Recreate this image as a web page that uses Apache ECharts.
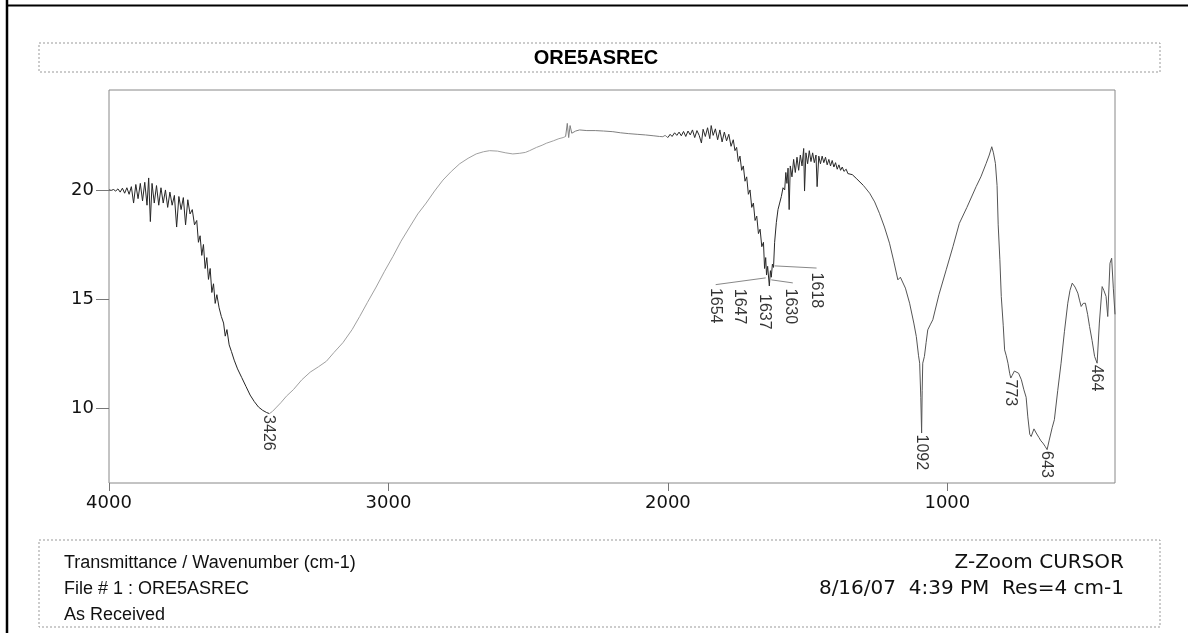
<!DOCTYPE html>
<html><head><meta charset="utf-8">
<script src="https://cdn.jsdelivr.net/npm/echarts@6/dist/echarts.min.js"></script>
<style>html,body{margin:0;padding:0;background:#fff}#c{width:1188px;height:633px}</style>
</head><body><div id="c"></div>
<script>
// IR spectrum: [wavenumber (cm-1), transmittance]
const spectrum = [
[4000,20.00],[3992,19.98],[3984,20.02],[3976,19.95],[3968,20.05],[3960,19.90],[3952,20.08],[3944,19.85],
[3936,20.10],[3928,19.80],[3920,20.15],[3912,19.40],[3904,20.25],[3896,19.60],[3888,20.30],[3880,19.50],
[3872,20.35],[3864,19.30],[3858,20.55],[3852,18.55],[3846,20.30],[3838,19.40],[3830,20.20],[3822,19.30],
[3814,20.10],[3806,19.40],[3798,20.00],[3790,19.20],[3782,19.90],[3774,19.30],[3766,19.75],[3758,18.30],
[3750,19.70],[3742,19.10],[3734,19.65],[3726,18.40],[3718,19.55],[3710,18.90],[3702,19.10],[3694,18.40],
[3686,18.60],[3680,17.60],[3674,17.90],[3668,17.00],[3662,17.50],[3656,16.40],[3650,16.90],[3644,15.90],
[3638,16.40],[3632,15.30],[3626,15.70],[3620,14.80],[3614,15.20],[3606,14.60],[3598,14.20],[3590,13.90],
[3584,13.30],[3578,13.60],[3570,12.90],[3562,12.60],[3552,12.20],[3540,11.80],[3525,11.40],[3510,11.00],
[3495,10.60],[3480,10.30],[3465,10.05],[3450,9.90],[3436,9.80],[3426,9.75],[3415,9.85],[3400,10.05],
[3385,10.25],[3365,10.55],[3340,10.85],[3310,11.30],[3280,11.65],[3250,11.90],[3222,12.15],[3195,12.55],
[3163,13.00],[3130,13.60],[3103,14.20],[3075,14.85],[3044,15.55],[3015,16.25],[2984,16.95],[2955,17.65],
[2924,18.30],[2895,18.90],[2865,19.40],[2835,19.95],[2805,20.45],[2775,20.85],[2745,21.20],[2715,21.45],
[2686,21.65],[2660,21.75],[2638,21.80],[2610,21.78],[2580,21.70],[2555,21.65],[2530,21.68],[2510,21.72],
[2495,21.80],[2470,21.95],[2450,22.05],[2435,22.14],[2410,22.25],[2390,22.35],[2375,22.40],[2366,22.45],
[2360,23.05],[2355,22.40],[2350,22.95],[2344,22.60],[2330,22.70],[2316,22.75],[2290,22.72],[2260,22.72],
[2230,22.70],[2197,22.67],[2170,22.62],[2140,22.58],[2110,22.55],[2080,22.52],[2050,22.48],[2030,22.45],
[2018,22.44],[2010,22.50],[2000,22.40],[1992,22.55],[1985,22.45],[1976,22.62],[1968,22.50],[1960,22.65],
[1952,22.48],[1944,22.68],[1936,22.45],[1928,22.70],[1920,22.52],[1912,22.75],[1904,22.40],[1896,22.72],
[1888,22.50],[1880,22.15],[1874,22.78],[1866,22.45],[1858,22.85],[1850,22.35],[1845,22.95],[1838,22.50],
[1830,22.80],[1822,22.30],[1814,22.75],[1806,22.20],[1798,22.65],[1790,22.25],[1782,22.55],[1774,22.00],
[1766,22.30],[1760,21.80],[1754,21.95],[1748,21.30],[1742,21.55],[1736,20.90],[1730,21.10],[1724,20.40],
[1718,20.60],[1712,19.80],[1706,20.00],[1700,19.20],[1694,19.40],[1688,18.60],[1682,18.80],[1676,18.00],
[1670,18.20],[1664,17.40],[1658,17.60],[1654,16.40],[1650,16.90],[1647,16.10],[1643,16.50],[1637,15.60],
[1633,16.30],[1630,16.00],[1626,16.60],[1622,16.45],[1618,17.60],[1612,18.50],[1606,19.10],[1600,19.40],
[1594,19.70],[1588,20.10],[1582,20.00],[1578,20.80],[1574,20.30],[1570,21.00],[1566,19.10],[1562,21.10],
[1556,20.60],[1550,21.40],[1544,20.80],[1538,21.50],[1532,20.90],[1526,21.60],[1520,21.10],[1514,21.90],
[1511,19.95],[1506,21.70],[1500,21.20],[1494,21.80],[1488,21.30],[1482,21.70],[1476,21.25],[1470,21.60],
[1466,20.15],[1460,21.55],[1454,21.20],[1448,21.55],[1442,21.25],[1436,21.50],[1430,21.15],[1424,21.40],
[1418,21.10],[1412,21.35],[1406,21.05],[1400,21.25],[1394,20.95],[1388,21.15],[1382,20.90],[1376,21.05],
[1370,20.85],[1362,20.95],[1356,20.75],[1350,20.84],[1340,20.70],[1326,20.53],[1300,20.20],[1278,19.85],
[1260,19.45],[1243,18.93],[1225,18.30],[1207,17.56],[1192,16.75],[1177,15.88],[1168,16.00],[1161,16.03],
[1150,15.50],[1135,14.81],[1120,13.90],[1111,13.28],[1103,12.40],[1099,12.06],[1095,10.50],[1092,8.86],
[1090,10.80],[1088,12.06],[1082,12.37],[1076,13.00],[1070,13.59],[1060,13.85],[1052,14.05],[1030,15.20],
[1004,16.34],[980,17.40],[957,18.47],[930,19.20],[897,20.15],[880,20.60],[861,21.22],[850,21.60],
[841,21.98],[835,21.70],[828,21.22],[822,20.20],[818,18.40],[812,16.80],[807,15.12],[800,13.80],
[795,12.67],[789,12.40],[783,12.06],[777,11.60],[773,11.38],[768,11.50],[760,11.70],[754,11.76],
[745,11.60],[735,11.30],[726,10.84],[718,10.50],[712,9.60],[705,8.80],[700,8.70],[690,9.05],
[682,8.86],[672,8.65],[665,8.50],[658,8.40],[650,8.25],[643,8.10],[636,8.50],[625,9.10],
[617,9.47],[605,10.80],[593,12.06],[581,13.50],[569,14.81],[561,15.40],[553,15.73],[543,15.55],
[533,15.27],[527,14.95],[521,14.66],[514,14.80],[506,14.81],[498,14.30],[491,13.74],[482,13.10],
[473,12.37],[464,12.06],[456,13.90],[446,15.57],[440,15.40],[432,15.12],[426,14.20],[418,16.64],
[412,16.87],[406,15.50],[400,14.30]
];
const xTicks = [4000, 3000, 2000, 1000];
const yTicks = [10, 15, 20];
// isolated peak labels: [wavenumber, transmittance at peak]
const peaks = [[3426, 9.75], [1092, 8.86], [773, 11.38], [643, 8.10], [464, 12.06]];
// clustered peak labels (text, anchor wavenumber, anchor transmittance)
const clusterNames = ['1654', '1647', '1637', '1630', '1618'];
const clusterWn = [1829, 1743, 1654, 1561, 1468];
const clusterT = [15.58, 15.54, 15.30, 15.55, 16.28];
// leader lines from the band to the labels
const leaders = [
  [[1650, 15.97], [1829, 15.66]],
  [[1630, 15.88], [1553, 15.74]],
  [[1618, 16.52], [1468, 16.42]]
];
// print density of the trace, by wavenumber range [high, low]
const traceSegments = [[4000, 3426, '#262626'], [3426, 2366, '#a0a0a0'], [2366, 2000, '#808080'], [2000, 1300, '#2a2a2a'], [1300, 400, '#555555']];

const chart = echarts.init(document.getElementById('c'), null, {renderer: 'canvas'});
const tickFont = {fontFamily: 'DejaVu Sans', fontSize: 18, color: '#111'};
const peakLabel = {
  show: true, rotate: -90, align: 'left', verticalAlign: 'middle',
  position: [0, 2], fontFamily: 'Liberation Sans', fontSize: 16, color: '#000'
};
const series = traceSegments.map(s => ({
  type: 'line', data: spectrum.filter(p => p[0] <= s[0] && p[0] >= s[1]),
  showSymbol: false, symbol: 'none', silent: true,
  lineStyle: {width: 1, color: s[2]}, z: 3
}));
series.push({
  type: 'scatter', data: peaks, symbolSize: 1, silent: true,
  itemStyle: {color: 'rgba(0,0,0,0)'},
  label: Object.assign({}, peakLabel, {formatter: p => String(p.value[0])}), z: 5
}, {
  type: 'scatter', silent: true, symbolSize: 1, itemStyle: {color: 'rgba(0,0,0,0)'},
  data: clusterNames.map((n, i) => ({name: n, value: [clusterWn[i], clusterT[i]]})),
  label: Object.assign({}, peakLabel, {formatter: '{b}'}), z: 5
});
leaders.forEach(l => series.push({
  type: 'line', data: l, symbol: 'none', silent: true,
  lineStyle: {width: 1, color: '#888'}, z: 2
}));

chart.setOption({
  animation: false,
  backgroundColor: '#fff',
  grid: {left: 109, right: 73, top: 90, bottom: 150, show: true, borderColor: '#888', borderWidth: 1, backgroundColor: 'transparent'},
  xAxis: {
    type: 'value', inverse: true, min: 400, max: 4000,
    axisLine: {show: false}, splitLine: {show: false},
    axisTick: {show: true, length: 8, lineStyle: {color: '#777'}, customValues: xTicks},
    axisLabel: Object.assign({margin: 11, customValues: xTicks, formatter: v => String(v)}, tickFont)
  },
  yAxis: {
    type: 'value', min: 6.57, max: 24.58,
    axisLine: {show: false}, splitLine: {show: false},
    axisTick: {show: true, length: 13, lineStyle: {color: '#777'}, customValues: yTicks},
    axisLabel: Object.assign({margin: 15, customValues: yTicks, formatter: v => String(v)}, tickFont)
  },
  series: series,
  graphic: [
    {type: 'line', shape: {x1: 7, y1: 0, x2: 7, y2: 633}, style: {stroke: '#000', lineWidth: 2.5}},
    {type: 'line', shape: {x1: 6, y1: 5.5, x2: 1188, y2: 5.5}, style: {stroke: '#000', lineWidth: 2}},
    {type: 'rect', shape: {x: 39, y: 43, width: 1121, height: 29}, style: {fill: 'none', stroke: '#999', lineWidth: 1, lineDash: [2, 2]}},
    {type: 'text', x: 596, y: 58, style: {text: 'ORE5ASREC', font: 'bold 20px "Liberation Sans", Arial, sans-serif', fill: '#000', textAlign: 'center', textVerticalAlign: 'middle'}},
    {type: 'rect', shape: {x: 39, y: 540, width: 1121, height: 87}, style: {fill: 'none', stroke: '#999', lineWidth: 1, lineDash: [2, 2]}},
    {type: 'text', x: 64, y: 563, style: {text: 'Transmittance / Wavenumber (cm-1)', font: '18px "Liberation Sans", Arial, sans-serif', fill: '#111', textVerticalAlign: 'middle'}},
    {type: 'text', x: 64, y: 589, style: {text: 'File # 1 : ORE5ASREC', font: '18px "Liberation Sans", Arial, sans-serif', fill: '#111', textVerticalAlign: 'middle'}},
    {type: 'text', x: 64, y: 615, style: {text: 'As Received', font: '18px "Liberation Sans", Arial, sans-serif', fill: '#111', textVerticalAlign: 'middle'}},
    {type: 'text', x: 1124, y: 563, style: {text: 'Z-Zoom CURSOR', font: '20px "DejaVu Sans", sans-serif', fill: '#111', textAlign: 'right', textVerticalAlign: 'middle'}},
    {type: 'text', x: 1124, y: 589, style: {text: '8/16/07  4:39 PM  Res=4 cm-1', font: '20px "DejaVu Sans", sans-serif', fill: '#111', textAlign: 'right', textVerticalAlign: 'middle'}}
  ]
});
</script></body></html>
